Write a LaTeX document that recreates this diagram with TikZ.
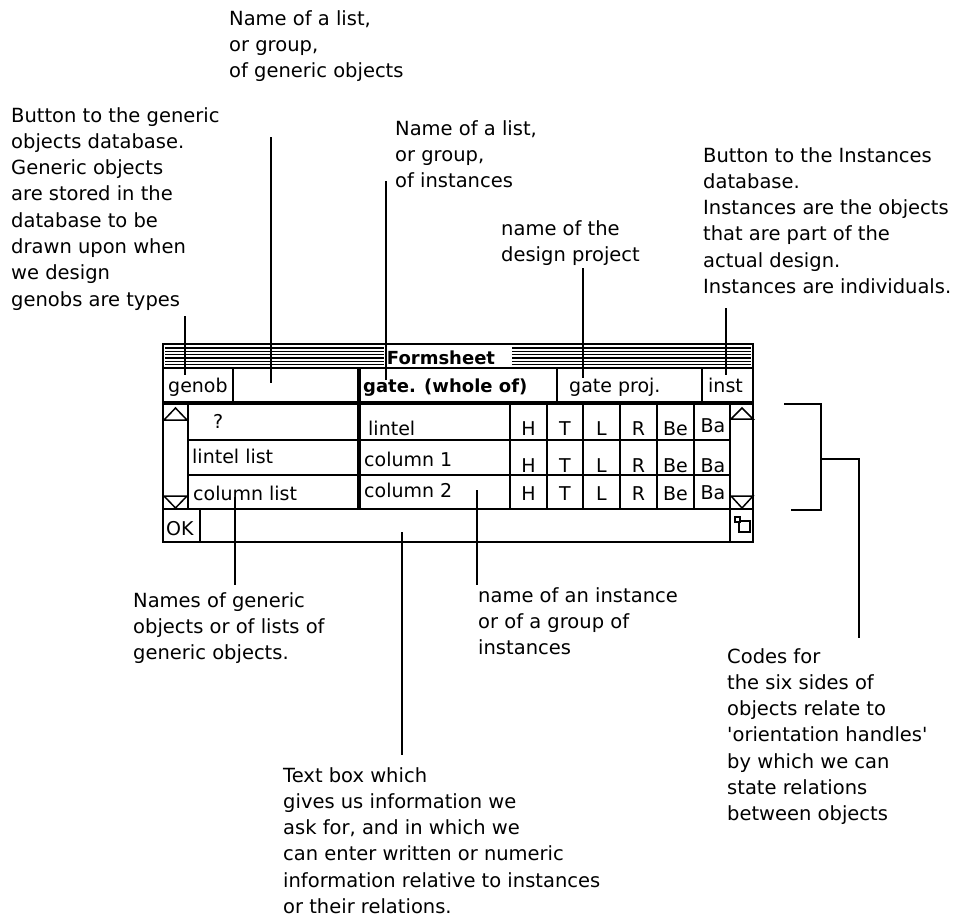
\documentclass[tikz,border=0pt]{standalone}
\usepackage{fontspec}
\setmainfont{DejaVu Sans}[Ligatures=TeXOff]
\begin{document}
\begin{tikzpicture}[x=1pt,y=-1pt,
  ann/.style={anchor=north west,align=left,inner sep=0pt,font=\fontsize{19.5}{26.3}\selectfont},
  cell/.style={anchor=base west,inner sep=0pt,font=\fontsize{19}{23}\selectfont},
  code/.style={anchor=base,inner sep=0pt,font=\fontsize{19}{23}\selectfont},
  boldcell/.style={anchor=base west,inner sep=0pt,font=\fontsize{18}{22}\selectfont\bfseries},
  titletext/.style={anchor=base,inner sep=0pt,font=\fontsize{18}{22}\selectfont\bfseries},
  lead/.style={line width=2pt},
  wline/.style={line width=2pt},
  tline/.style={line width=3.5pt},
  frame/.style={line width=2.6pt},
  stripe/.style={line width=1.2pt},
  aline/.style={line width=1.5pt,line join=miter}]
\useasboundingbox[fill=white] (0,0) rectangle (957,918);

% ---------- annotation texts ----------
\node[ann] (gname) at (229,10.2) {Name of a list,\\or group,\\of generic objects};
\node[ann] (gbtn) at (11,107) {Button to the generic\\objects database.\\Generic objects\\are stored in the\\database to be\\drawn upon when\\we design\\genobs are types};
\node[ann] (iname) at (395,120) {Name of a list,\\or group,\\of instances};
\node[ann] (proj) at (501,220) {name of the\\design project};
\node[ann] (ibtn) at (703,147) {Button to the Instances\\database.\\Instances are the objects\\that are part of the\\actual design.\\Instances are individuals.};
\node[ann] (gnames) at (133,592) {Names of generic\\objects or of lists of\\generic objects.};
\node[ann] (inst1) at (478,587) {name of an instance\\or of a group of\\instances};
\node[ann] (tbox) at (283,767) {Text box which\\gives us information we\\ask for, and in which we\\can enter written or numeric\\information relative to instances\\or their relations.};
\node[ann] (codes) at (727,648) {Codes for\\the six sides of\\objects relate to\\'orientation handles'\\by which we can\\state relations\\between objects};

% ---------- window ----------
\foreach \y in {348,351.3,354.6,357.9,361.2,364.5} {
  \draw[stripe] (165,\y) -- (384,\y);
  \draw[stripe] (512,\y) -- (751,\y);
}
\node[titletext] (title) at (441,364) {Formsheet};
\draw[frame] (163,344) rectangle (753,542);
\draw[wline] (163,368) -- (753,368);
\draw[wline] (233,368) -- (233,403);
\draw[wline] (557,368) -- (557,403);
\draw[wline] (702,368) -- (702,403);
\draw[tline] (163,403) -- (753,403);
\draw[tline] (359,368) -- (359,509);
\draw[wline] (188,403) -- (188,509);
\draw[wline] (730,403) -- (730,542);
\draw[wline] (188,440) -- (730,440);
\draw[wline] (188,475) -- (730,475);
\draw[wline] (163,509) -- (753,509);
\foreach \x in {510,547,583,620,657,694} \draw[wline] (\x,403) -- (\x,509);
\draw[wline] (200,509) -- (200,542);
% scroll arrows
\draw[aline] (164,420) -- (175.5,408) -- (187,420) -- cycle;
\draw[aline] (164,496) -- (175.5,508) -- (187,496) -- cycle;
\draw[aline] (731,419) -- (742,408) -- (753,419) -- cycle;
\draw[aline] (731,496) -- (742,508) -- (753,496) -- cycle;
% resize icon
\draw[aline] (739,521) rectangle (750,532);
\draw[aline,fill=white] (735,517) rectangle (740,522);

% cell texts
\node[cell] (genob) at (168,392) {genob};
\node[boldcell] (gate) at (363,392) {gate. (whole of)};
\node[cell] (gproj) at (569,392) {gate proj.};
\node[cell] (instb) at (708,392) {inst};
\node[cell] (q) at (213,428) {?};
\node[cell] (lintel) at (368,435) {lintel};
\node[cell] (llist) at (192,463) {lintel list};
\node[cell] (col1) at (364,466) {column 1};
\node[cell] (clist) at (193,500) {column list};
\node[cell] (col2) at (364,497) {column 2};
\node[cell] (ok) at (166,535) {OK};
\foreach \r/\yb/\ba in {a/435/432,b/472/472,c/500/499} {
  \node[code] (H\r) at (528.5,\yb) {H};
  \node[code] (T\r) at (565,\yb) {T};
  \node[code] (L\r) at (601.5,\yb) {L};
  \node[code] (R\r) at (638.5,\yb) {R};
  \node[code] (Be\r) at (675.5,\yb) {Be};
  \node[code] (Ba\r) at (713,\ba) {Ba};
}

% ---------- leader lines ----------
\coordinate (l1a) at (271,137); \coordinate (l1b) at (271,383);
\coordinate (l2a) at (185,316); \coordinate (l2b) at (185,375);
\coordinate (l3a) at (386,181); \coordinate (l3b) at (386,380);
\coordinate (l4a) at (583,268); \coordinate (l4b) at (583,378);
\coordinate (l5a) at (726,308); \coordinate (l5b) at (726,375);
\coordinate (l6a) at (235,497); \coordinate (l6b) at (235,585);
\coordinate (l7a) at (402,532); \coordinate (l7b) at (402,755);
\coordinate (l8a) at (477,490); \coordinate (l8b) at (477,585);
\draw[lead] (l1a) -- (l1b);
\draw[lead] (l2a) -- (l2b);
\draw[lead] (l3a) -- (l3b);
\draw[lead] (l4a) -- (l4b);
\draw[lead] (l5a) -- (l5b);
\draw[lead] (l6a) -- (l6b);
\draw[lead] (l7a) -- (l7b);
\draw[lead] (l8a) -- (l8b);
% bracket
\coordinate (bt) at (784,404); \coordinate (bb) at (791,510);
\coordinate (bm) at (821,459); \coordinate (be) at (859,638);
\draw[lead] (bt) -- (821,404) -- (821,510) -- (bb);
\draw[lead] (bm) -- (859,459) -- (be);
\end{tikzpicture}
\end{document}
